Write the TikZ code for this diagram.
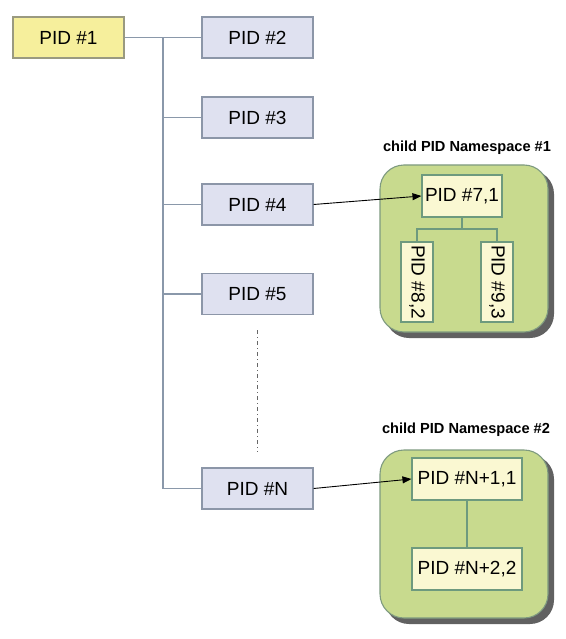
\documentclass[tikz,border=0pt]{standalone}
\usepackage{fontspec}
\setmainfont{Liberation Sans}
\usetikzlibrary{arrows.meta}
\definecolor{lav}{HTML}{DFE1F0}
\definecolor{lavline}{HTML}{8C96A8}
\definecolor{yel}{HTML}{F6EF9C}
\definecolor{yelline}{HTML}{9A9A80}
\definecolor{nsgreen}{HTML}{C8DA8E}
\definecolor{nsline}{HTML}{7E9A80}
\definecolor{ivory}{HTML}{FAF8D2}
\definecolor{ivline}{HTML}{6E9A7E}
\definecolor{treeline}{HTML}{8A98AA}
\begin{document}
\begin{tikzpicture}[x=1pt,y=-1pt,
  pidbox/.style={draw=lavline,fill=lav,line width=1.1pt,minimum width=111pt,minimum height=41pt,inner sep=0pt,font=\fontsize{19}{21}\selectfont},
  rootbox/.style={pidbox,draw=yelline,fill=yel},
  inbox/.style={draw=ivline,fill=ivory,line width=1.1pt,inner sep=0pt,font=\fontsize{19}{21}\selectfont},
  nsbox/.style={draw=nsline,fill=nsgreen,line width=1.1pt,rounded corners=24pt},
  nsshadow/.style={fill=black!62,rounded corners=24pt},
  nstitle/.style={font=\fontsize{14.6}{16}\selectfont\bfseries},
  tree/.style={draw=treeline,line width=1.1pt},
  intree/.style={draw=ivline,line width=1.1pt},
  arr/.style={draw=black,line width=0.9pt,-{Triangle[length=9pt,width=7pt]}}
]
\useasboundingbox (0,0) rectangle (565,639);

% main tree
\node[rootbox] (p1) at (68.5,37.5) {PID \#1};
\node[pidbox] (p2) at (257.5,37.5) {PID \#2};
\node[pidbox] (p3) at (257.5,117.5) {PID \#3};
\node[pidbox] (p4) at (257.5,204.5) {PID \#4};
\node[pidbox] (p5) at (257.5,294) {PID \#5};
\node[pidbox] (pn) at (257.5,488.5) {PID \#N};

\coordinate (t0) at (163,37.5);
\draw[tree] (p1.east) -- (p2.west);
\draw[tree] (t0) |- (pn.west);
\draw[tree] (t0 |- p3.west) -- (p3.west);
\draw[tree] (t0 |- p4.west) -- (p4.west);
\draw[tree] (t0 |- p5.west) -- (p5.west);

\coordinate (d1) at (257.5,330);
\coordinate (d2) at (257.5,452);
\draw[black!60,line width=0.8pt,dash pattern=on 4pt off 3pt on 1pt off 3pt] (d1) -- (d2);

% namespace 1
\fill[nsshadow] (385,170) rectangle (554,338);
\draw[nsbox] (380,165) rectangle (548,332);
\node[nstitle] (ns1t) at (467,148) {child PID Namespace \#1};
\node[inbox,minimum width=80pt,minimum height=42pt] (p7) at (462,196) {PID \#7,1};
\node[inbox,minimum width=32pt,minimum height=80pt] (p8) at (417,282) {\rotatebox{-90}{PID \#8,2}};
\node[inbox,minimum width=32pt,minimum height=80pt] (p9) at (497,282) {\rotatebox{-90}{PID \#9,3}};
\coordinate (j1) at (462,229);
\draw[intree] (p7.south) -- (j1);
\draw[intree] (p8.north) |- (j1) -| (p9.north);

% namespace 2
\fill[nsshadow] (385,455) rectangle (554,624);
\draw[nsbox] (380,450) rectangle (548,618);
\node[nstitle] (ns2t) at (466,430) {child PID Namespace \#2};
\node[inbox,minimum width=110pt,minimum height=42pt] (pn1) at (467,479) {PID \#N+1,1};
\node[inbox,minimum width=110pt,minimum height=42pt] (pn2) at (467,569) {PID \#N+2,2};
\draw[intree] (pn1.south) -- (pn2.north);

% arrows
\draw[arr] (p4.east) -- (p7.west);
\draw[arr] (pn.east) -- (pn1.west);
\end{tikzpicture}
\end{document}
